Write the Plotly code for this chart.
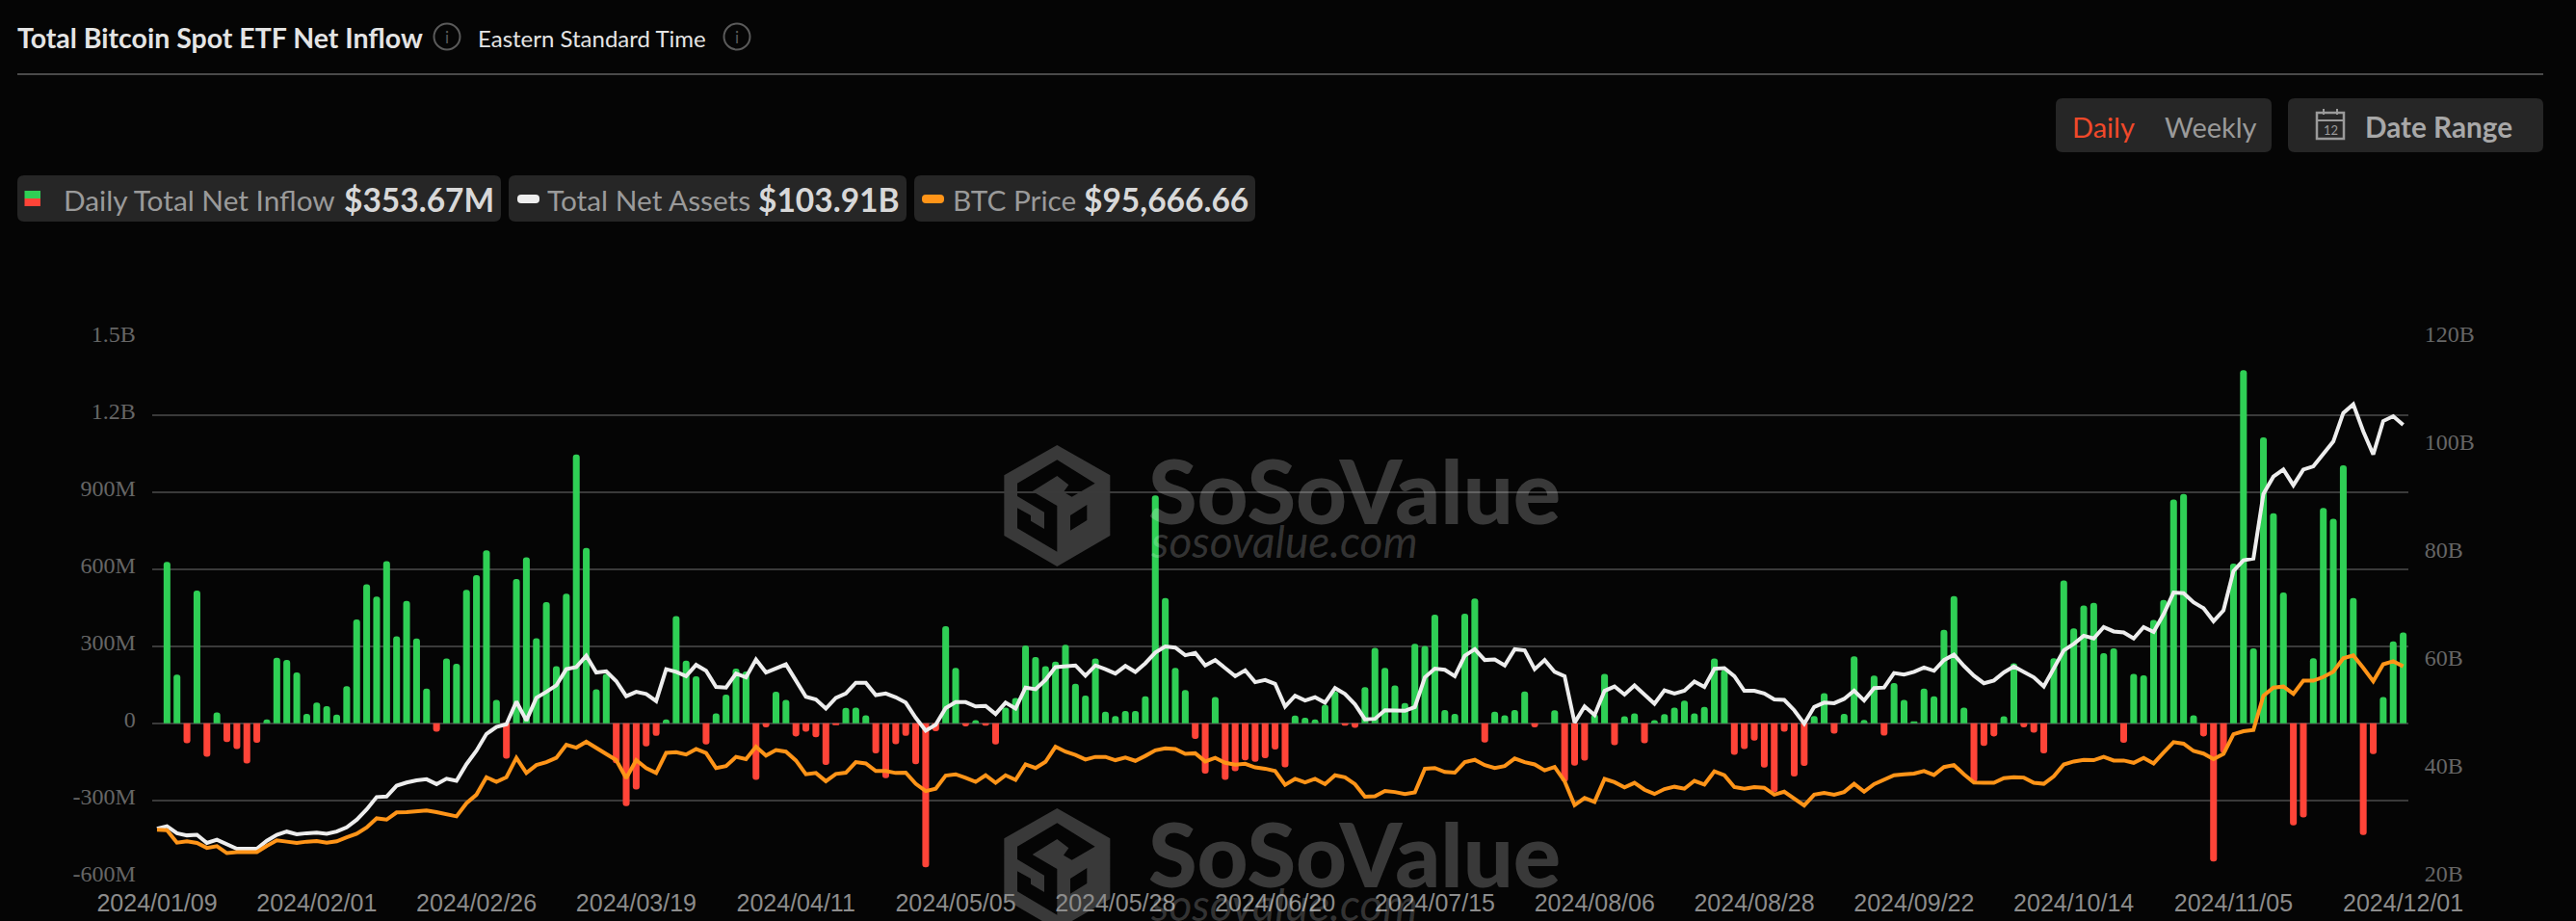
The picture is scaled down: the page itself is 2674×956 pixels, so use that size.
import plotly.graph_objects as go

W, H = 2674, 956

tick_labels = ["2024/01/09","2024/02/01","2024/02/26","2024/03/19","2024/04/11","2024/05/05","2024/05/28",
               "2024/06/20","2024/07/15","2024/08/06","2024/08/28","2024/09/22","2024/10/14","2024/11/05","2024/12/01"]
tick_index = [0,16,32,48,64,80,96,112,128,144,160,176,192,208,225]

# Daily total net inflow, $M
net_inflow = [None,628,190,-78,517,-130,42,-73,-100,-156,-76,15,255,247,198,37,81,67,34,145,404,541,493,631,339,476,330,135,-33,252,
232,520,577,673,91,-138,562,646,331,472,222,505,1046,683,132,192,-155,-322,-258,-90,-49,15,417,244,183,-82,39,112,213,202,
-220,-16,123,91,-51,-33,-54,-162,-4,60,61,31,-117,-214,-81,-49,-159,-560,-31,378,216,-12,12,-9,-82,61,99,303,258,222,
240,306,154,108,252,45,28,48,48,105,887,488,216,130,-61,-196,102,-220,-186,-144,-150,-136,-102,-171,30,22,15,72,124,-9,
-18,141,294,216,147,79,310,301,423,52,37,427,486,-75,45,31,52,124,-16,0,51,-228,-165,-145,35,192,-85,27,39,-78,
12,36,61,88,39,64,252,207,-123,-100,-67,-172,-268,-33,-207,-166,28,117,-40,37,261,13,186,-48,157,91,4,135,105,364,
495,61,-228,-88,-51,27,234,-16,-36,-117,253,556,370,459,469,273,292,-76,192,187,402,480,871,893,31,-51,-538,-115,622,1375,
292,1113,818,509,-397,-366,253,838,796,1004,488,-435,-120,102,319,353.67]

# Total net assets, $B
net_assets = [29.05,29.5,28.2,27.8,27.9,26.4,27.0,26.1,25.3,25.3,25.3,26.8,27.9,28.5,28.0,28.2,28.3,28.1,28.5,29.3,30.7,32.6,34.9,35.0,37.0,37.6,38.0,38.2,37.3,38.3,
37.9,41.0,43.5,46.6,47.9,48.4,52.6,49.1,53.3,54.4,55.6,58.6,59.0,61.1,58.0,58.2,56.4,53.6,54.4,54.0,52.7,58.6,58.1,57.3,59.4,58.3,55.3,55.2,57.8,57.1,
60.4,58.0,58.8,59.5,56.5,53.5,53.0,51.3,53.3,54.1,56.1,56.1,53.8,54.1,53.4,52.4,49.6,47.2,48.3,51.4,52.5,52.5,51.7,51.8,50.3,52.4,51.3,55.2,54.9,56.6,
59.0,59.1,59.3,57.4,59.3,58.6,57.8,59.2,58.1,59.7,61.7,62.8,62.6,61.2,61.6,59.3,60.3,58.8,57.3,58.4,56.2,56.6,55.9,51.7,53.7,52.8,53.4,52.4,55.1,54.0,
52.1,49.3,49.4,51.0,50.9,50.9,51.6,57.1,58.7,58.5,57.3,61.1,62.3,60.3,60.4,59.3,62.3,62.1,58.6,60.3,58.1,57.3,48.7,51.7,50.1,54.6,55.4,53.9,55.6,53.9,
52.2,54.7,54.1,54.6,56.3,55.3,58.7,58.8,57.3,54.6,54.6,54.1,53.0,52.9,51.0,48.5,51.6,52.4,52.3,53.1,54.6,52.8,55.1,55.2,57.9,57.6,58.1,58.9,58.3,60.3,
61.3,59.2,57.4,56.0,56.5,58.0,59.1,58.1,57.1,55.4,58.8,62.1,63.3,64.8,64.3,66.4,65.6,65.4,64.3,66.4,65.5,68.8,72.8,72.7,71.0,69.9,67.5,69.5,76.8,78.8,
79.1,91.1,94.3,95.6,92.7,95.6,96.2,98.6,100.8,106.1,107.7,102.7,98.4,104.6,105.5,103.91]

# BTC price, $K
btc_price = [45.9,45.8,42.0,42.4,41.9,40.4,40.9,38.8,39.1,39.2,39.1,41.0,42.7,42.3,41.9,42.3,42.5,42.0,42.4,43.6,44.7,46.6,49.4,49.0,51.2,51.3,51.5,51.8,51.3,50.7,
50.0,54.0,56.6,61.9,60.5,61.9,67.8,63.2,65.6,66.5,67.8,71.8,70.9,72.7,70.8,69.1,67.1,61.6,67.1,64.7,63.2,69.3,69.5,68.8,70.5,69.3,64.7,65.3,68.1,67.4,
71.2,68.5,70.2,69.7,67.0,62.8,63.2,60.7,62.9,63.3,66.5,66.1,63.8,63.8,63.2,63.3,59.9,57.7,58.4,62.4,62.8,61.7,60.5,62.5,60.2,62.5,61.1,65.8,64.7,66.6,
71.2,69.7,68.7,67.3,68.1,68.1,67.1,67.9,66.9,68.4,70.1,70.7,70.5,69.0,69.2,66.7,67.8,66.3,65.7,66.0,64.9,64.5,63.8,59.6,61.4,60.3,61.4,59.8,62.5,61.9,
59.8,56.0,56.1,57.7,57.4,56.8,57.3,64.5,64.7,63.5,63.3,66.5,67.2,65.6,64.7,65.3,67.6,66.5,65.8,64.0,65.0,60.7,53.4,55.6,54.4,61.4,60.4,58.8,60.2,58.1,
56.8,58.3,59.0,58.4,60.8,59.7,63.7,62.5,58.9,58.4,58.9,58.7,56.6,57.5,55.4,53.3,56.6,57.1,56.6,57.4,59.9,57.5,59.8,61.2,62.5,62.8,63.0,63.8,62.6,65.0,
65.6,62.8,60.3,60.2,60.2,61.6,61.9,61.8,60.2,59.9,62.2,65.8,66.7,67.2,67.1,68.1,67.0,67.0,66.3,67.8,66.1,69.4,72.6,72.1,69.9,69.1,67.4,69.0,75.0,75.9,
76.3,86.7,89.2,89.5,87.3,91.3,91.3,92.4,94.0,98.1,99.0,95.2,91.1,96.3,97.2,95.67]

left_ticks = [-600,-300,0,300,600,900,1200,1500]
left_labels = ["-600M","-300M","0","300M","600M","900M","1.2B","1.5B"]
right_ticks = [20,40,60,80,100,120]
right_labels = ["20B","40B","60B","80B","100B","120B"]

days = list(range(len(net_assets)))
GREEN, RED, WHITE, ORANGE = "#2FCF55", "#FF4438", "#EDEDED", "#FF9418"
bar_colors = [GREEN if (v or 0) >= 0 else RED for v in net_inflow]

def fx(x): return x / W
def fy(y): return 1 - y / H

# plot area in page pixels
PL, PR, PT, PB = 157.8, 2499.8, 350.8, 910.8

fig = go.Figure()
fig.add_trace(go.Bar(x=days, y=net_inflow, marker=dict(color=bar_colors, line_width=0, cornerradius=3.5),
                     width=0.68, yaxis="y", name="Daily Total Net Inflow"))
fig.add_trace(go.Scatter(x=days, y=btc_price, mode="lines", line=dict(color=ORANGE, width=4), yaxis="y3", name="BTC Price"))
fig.add_trace(go.Scatter(x=days, y=net_assets, mode="lines", line=dict(color=WHITE, width=4), yaxis="y2", name="Total Net Assets"))

shapes, ann = [], []

def pill(x0, y0, x1, y1, color="#262626", r=7):
    path = (f"M{fx(x0+r)},{fy(y0)} L{fx(x1-r)},{fy(y0)} Q{fx(x1)},{fy(y0)} {fx(x1)},{fy(y0+r)} "
            f"L{fx(x1)},{fy(y1-r)} Q{fx(x1)},{fy(y1)} {fx(x1-r)},{fy(y1)} L{fx(x0+r)},{fy(y1)} "
            f"Q{fx(x0)},{fy(y1)} {fx(x0)},{fy(y1-r)} L{fx(x0)},{fy(y0+r)} Q{fx(x0)},{fy(y0)} {fx(x0+r)},{fy(y0)} Z")
    shapes.append(dict(type="path", xref="paper", yref="paper", path=path, fillcolor=color, line_width=0, layer="below"))

def rect(x0, y0, x1, y1, color):
    shapes.append(dict(type="rect", xref="paper", yref="paper", x0=fx(x0), x1=fx(x1), y0=fy(y0), y1=fy(y1),
                       fillcolor=color, line_width=0, layer="below"))

def text(x, y, s, size, color, weight=400, family="Lato", anchor="left", style="normal", ann_list=ann):
    ann_list.append(dict(xref="paper", yref="paper", x=fx(x), y=fy(y), text=s, showarrow=False, xanchor=anchor, yanchor="middle",
                         font=dict(family=family, size=size, color=color, weight=weight, style=style),
                         borderpad=0, borderwidth=0))

def circle(cx, cy, r, color="#5a5a5a"):
    shapes.append(dict(type="circle", xref="paper", yref="paper", x0=fx(cx-r), x1=fx(cx+r), y0=fy(cy+r), y1=fy(cy-r),
                       line=dict(color=color, width=2), fillcolor="rgba(0,0,0,0)", layer="below"))

# header
text(18, 39, "Total Bitcoin Spot ETF Net Inflow", 28.5, "#E4E4E4", 700)
circle(464, 38, 13.5)
text(464, 38, "i", 17, "#5a5a5a", anchor="center")
text(496, 39, "Eastern Standard Time", 24, "#E4E4E4")
circle(765, 38, 13.5)
text(765, 38, "i", 17, "#5a5a5a", anchor="center")
rect(18, 76, 2640, 78, "#4a4a4a")

# buttons
pill(2134, 102, 2358, 158)
pill(2375, 102, 2640, 158)
text(2151, 132, "Daily", 29, "#F0492A")
text(2247, 132, "Weekly", 29, "#9a9a9a")
text(2455, 132, "Date Range", 29.7, "#A8A8A8", 700)
shapes.append(dict(type="rect", xref="paper", yref="paper", x0=fx(2405), x1=fx(2433), y0=fy(144), y1=fy(117),
                   line=dict(color="#9a9a9a", width=2.5), fillcolor="rgba(0,0,0,0)", layer="below"))
rect(2405, 124, 2433, 126, "#9a9a9a")
rect(2411, 113, 2413, 119, "#9a9a9a")
rect(2425, 113, 2427, 119, "#9a9a9a")
text(2419, 135, "12", 13, "#9a9a9a", anchor="center")

# legend pills
pill(18, 182, 520, 230)
pill(528, 182, 941, 230)
pill(949, 182, 1303, 230)
rect(25.5, 198, 42, 206, GREEN)
rect(25.5, 206, 42, 214, RED)
pill(537, 202, 560, 211, WHITE, 4)
pill(957, 202, 980, 211, ORANGE, 4)
text(66, 207, "Daily Total Net Inflow", 29.8, "#9A9A9A")
text(357, 207, "$353.67M", 33.5, "#D8D8D8", 700)
text(568, 207, "Total Net Assets", 29.8, "#9A9A9A")
text(787, 207, "$103.91B", 33.5, "#D8D8D8", 700)
text(989, 207, "BTC Price", 29.8, "#9A9A9A")
text(1125, 207, "$95,666.66", 33.5, "#D8D8D8", 700)

# watermark (twice, 377 px apart)
WM = "#393939"
def logo(dy):
    ox, oy = 1030, 450 + dy
    def P(pts):
        return "M" + " L".join(f"{fx(ox+a/3)},{fy(oy+b/3)}" for a, b in pts) + " Z "
    outer = [(202,36),(367,130),(367,318),(202,414),(37,318),(37,130)]
    inner = [(202,82),(320,155),(248,197),(222,182),(238,160),(202,132),(125,180),(202,225),(202,368),(78,295),
             (78,232),(120,255),(120,272),(162,297),(162,245),(78,195),(78,155)]
    window = [(243,255),(295,222),(295,270),(243,302)]
    shapes.append(dict(type="path", xref="paper", yref="paper", path=P(outer)+P(inner)+P(window),
                       fillcolor=WM, line_width=0, layer="below"))
    text(1192, 508.5 + dy, "SoSoValue", 92, "rgba(255,255,255,0.21)", 900, "Lato")
    text(1194, 561 + dy, "sosovalue.com", 46, "rgba(255,255,255,0.19)", 400, "Lato", style="italic")
logo(0)
logo(377)

axis_font = dict(family="Liberation Serif", size=24, color="#666666")
fig.update_layout(
    width=W, height=H, autosize=False, margin=dict(l=0, r=0, t=0, b=0, autoexpand=False),
    paper_bgcolor="#050505", plot_bgcolor="rgba(0,0,0,0)", showlegend=False, shapes=shapes, annotations=ann,
    xaxis=dict(domain=[fx(PL), fx(PR)], range=[-0.5, len(days)-0.5], tickmode="array", tickvals=tick_index, ticktext=tick_labels,
               showgrid=False, zeroline=False, showline=False, ticks="", ticklabelstandoff=9,
               tickfont=dict(family="Liberation Sans", size=25, color="#8C8C8C"), anchor="y", tickangle=0),
    yaxis=dict(domain=[fy(PB), fy(PT)], range=[-600, 1500], tickmode="array", tickvals=left_ticks, ticktext=left_labels,
               showgrid=True, gridcolor="#3A3A3A", gridwidth=1.6, zeroline=False, showline=False, ticks="",
               ticklabelstandoff=16, ticklabelshift=-4, tickfont=axis_font),
    yaxis2=dict(domain=[fy(PB), fy(PT)], overlaying="y", side="right", anchor="x", range=[20, 120], tickmode="array",
                tickvals=right_ticks, ticktext=right_labels, showgrid=False, zeroline=False, showline=False, ticks="",
                ticklabelstandoff=16, ticklabelshift=-4, tickfont=axis_font),
    yaxis3=dict(domain=[fy(PB), fy(PT)], overlaying="y", anchor="x", range=[31.4, 195.6], visible=False),
)

fig.write_html("out.html", config={"displayModeBar": False},
               post_script="document.body.style.margin='0';document.body.style.background='#050505';document.documentElement.style.overflow='hidden';")
